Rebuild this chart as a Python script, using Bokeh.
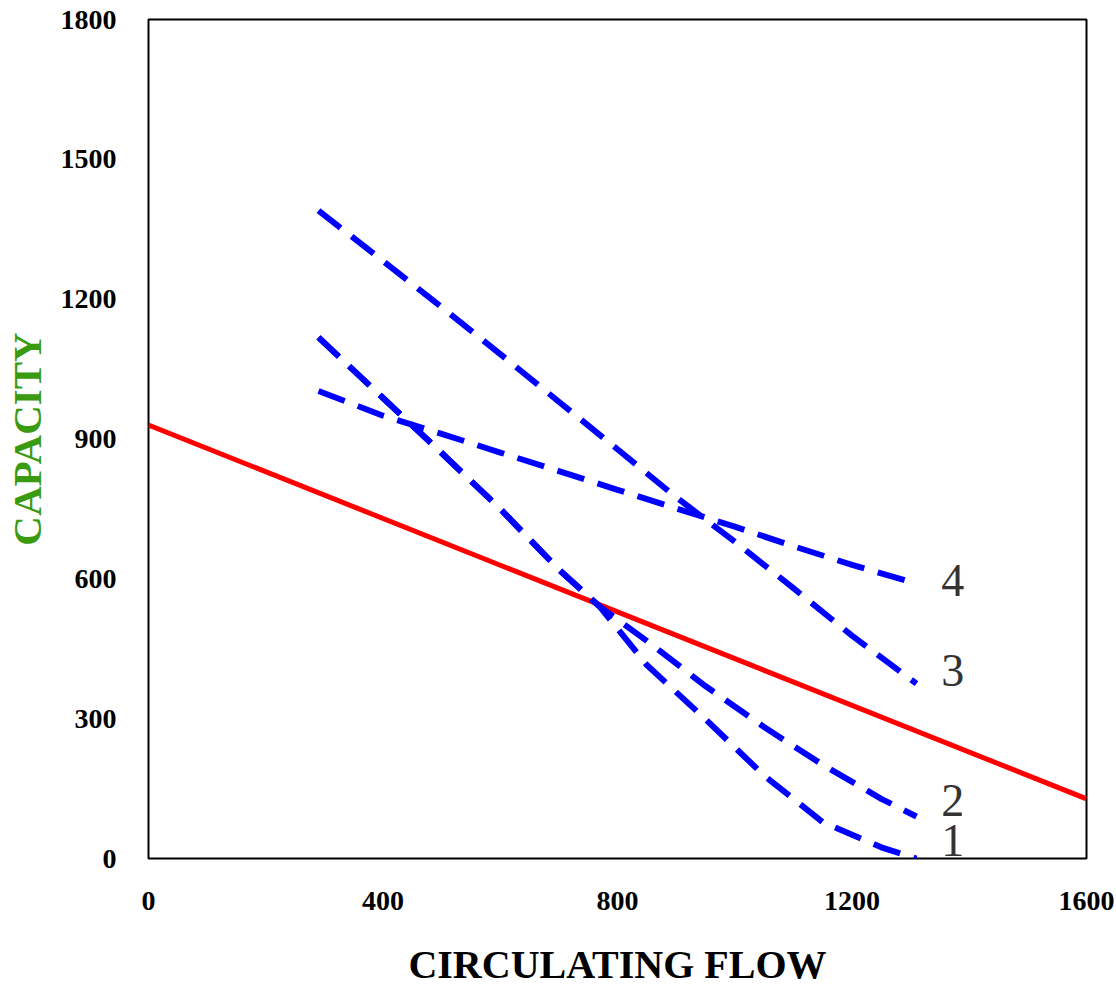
from bokeh.plotting import figure
from bokeh.models import FixedTicker, Range1d, Label
from bokeh.embed import file_html
from bokeh.resources import INLINE

# Red reference line
red_x = [0, 1600]
red_y = [930, 128]

# Dashed curves
c1_x = [290, 400, 500, 600, 700, 770, 850, 950, 1050, 1150, 1250, 1310]
c1_y = [1118, 988, 870, 750, 620, 540, 415, 299, 178, 78, 24, 0]

c2_x = [290, 400, 500, 600, 700, 770, 850, 950, 1050, 1150, 1250, 1310]
c2_y = [1118, 988, 870, 750, 620, 540, 467, 370, 282, 201, 128, 90]

c3_x = [290, 400, 500, 600, 700, 800, 900, 1000, 1100, 1200, 1310]
c3_y = [1390, 1282, 1183, 1082, 980, 878, 775, 680, 580, 478, 375]

c4_x = [290, 400, 500, 600, 700, 800, 900, 1000, 1100, 1200, 1310]
c4_y = [1003, 950, 911, 871, 831, 791, 751, 712, 670, 630, 590]

# Curve labels
lab_text = ["1", "2", "3", "4"]
lab_x = [1372, 1372, 1372, 1372]
lab_y = [38, 124, 403, 596]

x_ticks = [0, 400, 800, 1200, 1600]
y_ticks = [0, 300, 600, 900, 1200, 1500, 1800]

p = figure(width=1116, height=989, output_backend="svg", toolbar_location=None,
           x_range=Range1d(0, 1600), y_range=Range1d(0, 1800),
           min_border_left=148, min_border_right=30, min_border_top=19,
           min_border_bottom=131)
p.background_fill_color = "white"
p.border_fill_color = "white"
p.outline_line_color = "black"
p.outline_line_width = 2
p.xgrid.visible = False
p.ygrid.visible = False

p.line(red_x, red_y, line_color="#ff0000", line_width=5)
for xs, ys in [(c1_x, c1_y), (c2_x, c2_y), (c3_x, c3_y), (c4_x, c4_y)]:
    p.line(xs, ys, line_color="#0000ff", line_width=6, line_dash="28 14")

for t, lx, ly in zip(lab_text, lab_x, lab_y):
    p.add_layout(Label(x=lx, y=ly, text=t, text_font="Liberation Serif",
                       text_font_size="46px", text_color="#333333",
                       text_align="center", text_baseline="middle"))

for ax in (p.xaxis[0], p.yaxis[0]):
    ax.axis_line_color = None
    ax.major_tick_line_color = None
    ax.minor_tick_line_color = None
    ax.major_label_text_font = "Liberation Serif"
    ax.major_label_text_font_style = "bold"
    ax.major_label_text_font_size = "28px"
    ax.major_label_text_color = "black"
    ax.axis_label_text_font = "Liberation Serif"
    ax.axis_label_text_font_style = "bold"

p.xaxis.ticker = FixedTicker(ticks=x_ticks)
p.yaxis.ticker = FixedTicker(ticks=y_ticks)
p.xaxis.major_label_standoff = 27
p.yaxis.major_label_standoff = 26

p.xaxis.axis_label = "CIRCULATING FLOW"
p.xaxis.axis_label_text_font_size = "40px"
p.xaxis.axis_label_text_color = "black"
p.xaxis.axis_label_standoff = 29

p.yaxis.axis_label = "CAPACITY"
p.yaxis.axis_label_text_font_size = "41px"
p.yaxis.axis_label_text_color = "#3a9a10"
p.yaxis.axis_label_standoff = 8

open("out.html", "w").write(file_html(p, INLINE))
